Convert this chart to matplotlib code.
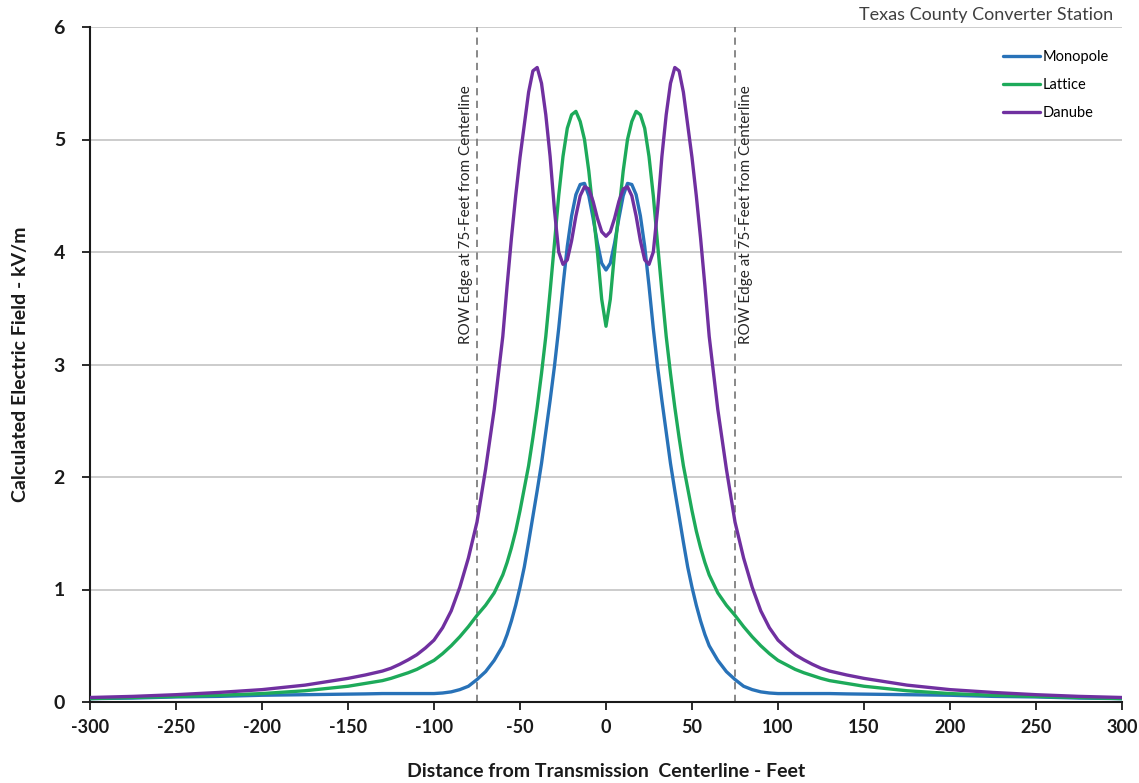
import matplotlib
matplotlib.use("Agg")
import matplotlib.pyplot as plt

plt.rcParams['font.family'] = ['Lato', 'DejaVu Sans']

distance_ft = [-300, -275, -250, -225, -200, -175, -150, -140, -130, -125, -120, -115, -110, -105, -100,
               -95, -90, -85, -80, -75, -70, -65, -60, -57.5, -55, -52.5, -50, -47.5, -45, -42.5,
               -40, -37.5, -35, -32.5, -30, -27.5, -25, -22.5, -20, -17.5, -15, -12.5, -10, -7.5, -5, -2.5,
               0,
               2.5, 5, 7.5, 10, 12.5, 15, 17.5, 20, 22.5, 25, 27.5, 30, 32.5, 35, 37.5, 40,
               42.5, 45, 47.5, 50, 52.5, 55, 57.5, 60, 65, 70, 75, 80, 85, 90, 95,
               100, 105, 110, 115, 120, 125, 130, 140, 150, 175, 200, 225, 250, 275, 300]

monopole = [0.03, 0.035, 0.045, 0.05, 0.06, 0.065, 0.07, 0.072, 0.075, 0.075, 0.075, 0.075, 0.075, 0.075, 0.075,
            0.08, 0.09, 0.11, 0.14, 0.2, 0.27, 0.37, 0.5, 0.6, 0.72, 0.86, 1.02, 1.2, 1.42, 1.65,
            1.88, 2.12, 2.4, 2.68, 2.98, 3.32, 3.7, 4.05, 4.32, 4.51, 4.6, 4.61, 4.5, 4.3, 4.08, 3.9,
            3.84,
            3.9, 4.08, 4.3, 4.5, 4.61, 4.6, 4.51, 4.32, 4.05, 3.7, 3.32, 2.98, 2.68, 2.4, 2.12, 1.88,
            1.65, 1.42, 1.2, 1.02, 0.86, 0.72, 0.6, 0.5, 0.37, 0.27, 0.2, 0.14, 0.11, 0.09, 0.08,
            0.075, 0.075, 0.075, 0.075, 0.075, 0.075, 0.075, 0.072, 0.07, 0.065, 0.06, 0.05, 0.045, 0.035, 0.03]

lattice = [0.03, 0.04, 0.05, 0.06, 0.075, 0.10, 0.14, 0.165, 0.19, 0.21, 0.235, 0.26, 0.29, 0.33, 0.37,
           0.43, 0.5, 0.58, 0.67, 0.77, 0.86, 0.97, 1.13, 1.24, 1.37, 1.52, 1.7, 1.9, 2.1, 2.35,
           2.62, 2.92, 3.25, 3.65, 4.07, 4.5, 4.85, 5.1, 5.22, 5.25, 5.16, 5.0, 4.72, 4.36, 4.0, 3.58,
           3.34,
           3.58, 4.0, 4.36, 4.72, 5.0, 5.16, 5.25, 5.22, 5.1, 4.85, 4.5, 4.07, 3.65, 3.25, 2.92, 2.62,
           2.35, 2.1, 1.9, 1.7, 1.52, 1.37, 1.24, 1.13, 0.97, 0.86, 0.77, 0.67, 0.58, 0.5, 0.43,
           0.37, 0.33, 0.29, 0.26, 0.235, 0.21, 0.19, 0.165, 0.14, 0.10, 0.075, 0.06, 0.05, 0.04, 0.03]

danube = [0.04, 0.05, 0.065, 0.085, 0.11, 0.15, 0.21, 0.24, 0.275, 0.30, 0.335, 0.375, 0.42, 0.48, 0.55,
          0.66, 0.81, 1.02, 1.28, 1.6, 2.07, 2.6, 3.25, 3.7, 4.12, 4.5, 4.84, 5.13, 5.42, 5.61,
          5.64, 5.5, 5.22, 4.85, 4.38, 4.0, 3.89, 3.93, 4.1, 4.32, 4.5, 4.58, 4.56, 4.45, 4.3, 4.18,
          4.14,
          4.18, 4.3, 4.45, 4.56, 4.58, 4.5, 4.32, 4.1, 3.93, 3.89, 4.0, 4.38, 4.85, 5.22, 5.5, 5.64,
          5.61, 5.42, 5.13, 4.84, 4.5, 4.12, 3.7, 3.25, 2.6, 2.07, 1.6, 1.28, 1.02, 0.81, 0.66,
          0.55, 0.48, 0.42, 0.375, 0.335, 0.30, 0.275, 0.24, 0.21, 0.15, 0.11, 0.085, 0.065, 0.05, 0.04]

series_names = ["Monopole", "Lattice", "Danube"]
series_colors = ["#2872B8", "#1DAA5A", "#7030A0"]
row_edges = [-75, 75]
row_label = "ROW Edge at 75-Feet from Centerline"
x_ticks = [-300, -250, -200, -150, -100, -50, 0, 50, 100, 150, 200, 250, 300]
y_ticks = [0, 1, 2, 3, 4, 5, 6]

fig = plt.figure(figsize=(11.39, 7.83), dpi=100)
ax = fig.add_axes([90 / 1139, 1 - 702 / 783, (1122 - 90) / 1139, (702 - 27) / 783])

for ys, name, col in zip([monopole, lattice, danube], series_names, series_colors):
    ax.plot(distance_ft, ys, color=col, lw=2.4, label=name, solid_joinstyle='round',
            solid_capstyle='round', zorder=3)

for xe in row_edges:
    ax.axvline(xe, color='#7F7F7F', lw=1.3, ls=(0, (4, 3)), zorder=2)

ax.text(row_edges[0] - 6.5, 4.33, row_label, rotation=90,
        ha='center', va='center', fontsize=11, color='#262626')
ax.text(row_edges[1] + 6.5, 4.33, row_label, rotation=90,
        ha='center', va='center', fontsize=11, color='#262626')

ax.set_xlim(-300, 300)
ax.set_ylim(0, 6)
ax.set_xticks(x_ticks)
ax.set_yticks(y_ticks)
ax.set_xticklabels([str(t) for t in x_ticks], fontsize=13, fontweight='bold', color='#1a1a1a')
ax.set_yticklabels([str(t) for t in y_ticks], fontsize=14, fontweight='bold', color='#1a1a1a')
ax.tick_params(axis='both', direction='out', length=6, width=1.3, color='#1a1a1a')
ax.tick_params(axis='y', pad=12)
ax.tick_params(axis='x', pad=6)

ax.grid(axis='y', color='#BFBFBF', lw=1.1, zorder=0)
ax.set_axisbelow(True)
for s in ['top', 'right']:
    ax.spines[s].set_visible(False)
for s in ['left', 'bottom']:
    ax.spines[s].set_linewidth(1.5)
    ax.spines[s].set_color('#1a1a1a')

ax.set_xlabel("Distance from Transmission  Centerline - Feet", fontsize=14, fontweight='bold',
              labelpad=20, color='#1a1a1a')
ax.set_ylabel("Calculated Electric Field - kV/m", fontsize=14, fontweight='bold',
              labelpad=18, color='#1a1a1a')

fig.text(1113 / 1139, 1 - 15 / 783, "Texas County Converter Station", ha='right', va='center',
         fontsize=13, color='#404040')

ax.legend(loc='upper right', bbox_to_anchor=(1.0, 0.985), frameon=False, fontsize=10.5,
          handlelength=2.6, handletextpad=0.15, labelspacing=0.95)

fig.savefig("out.png", dpi=100)
